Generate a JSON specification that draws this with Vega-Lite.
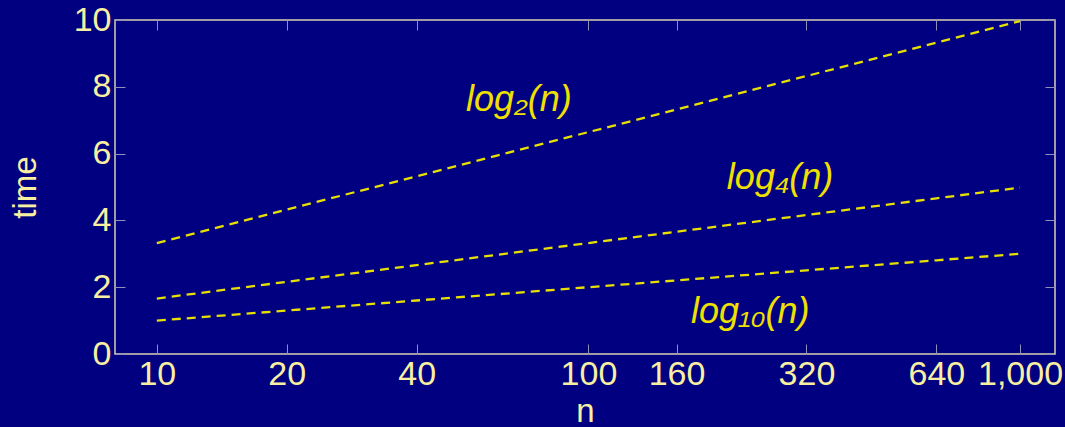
{
  "$schema": "https://vega.github.io/schema/vega-lite/v6.json",
  "autosize": "none",
  "padding": {"left": 115, "top": 20, "right": 10, "bottom": 73},
  "width": 940,
  "height": 334,
  "background": "#000080",
  "config": {
    "view": {"stroke": "#d8d0b0", "strokeWidth": 1.5},
    "font": "Liberation Sans",
    "axis": {
      "domain": false,
      "grid": false,
      "tickColor": "#9090b8",
      "tickSize": -10,
      "tickWidth": 1,
      "labelColor": "#f8f0a0",
      "labelFont": "Liberation Sans",
      "labelFontSize": 34,
      "titleColor": "#f8f0a0",
      "titleFont": "Liberation Sans",
      "titleFontSize": 33,
      "titleFontWeight": "normal"
    }
  },
  "datasets": {
    "lines": [
      {"n": 10, "time": 3.3219, "series": "log2"},
      {"n": 20, "time": 4.3219, "series": "log2"},
      {"n": 40, "time": 5.3219, "series": "log2"},
      {"n": 100, "time": 6.6439, "series": "log2"},
      {"n": 160, "time": 7.3219, "series": "log2"},
      {"n": 320, "time": 8.3219, "series": "log2"},
      {"n": 640, "time": 9.3219, "series": "log2"},
      {"n": 1000, "time": 9.9658, "series": "log2"},
      {"n": 10, "time": 1.6610, "series": "log4"},
      {"n": 20, "time": 2.1610, "series": "log4"},
      {"n": 40, "time": 2.6610, "series": "log4"},
      {"n": 100, "time": 3.3219, "series": "log4"},
      {"n": 160, "time": 3.6610, "series": "log4"},
      {"n": 320, "time": 4.1610, "series": "log4"},
      {"n": 640, "time": 4.6610, "series": "log4"},
      {"n": 1000, "time": 4.9829, "series": "log4"},
      {"n": 10, "time": 1.0, "series": "log10"},
      {"n": 20, "time": 1.301, "series": "log10"},
      {"n": 40, "time": 1.602, "series": "log10"},
      {"n": 100, "time": 2.0, "series": "log10"},
      {"n": 160, "time": 2.204, "series": "log10"},
      {"n": 320, "time": 2.505, "series": "log10"},
      {"n": 640, "time": 2.806, "series": "log10"},
      {"n": 1000, "time": 3.0, "series": "log10"}
    ],
    "labels": [
      {"n": 69, "time": 7.6, "label": "log₂(n)"},
      {"n": 278, "time": 5.27, "label": "log₄(n)"},
      {"n": 237, "time": 1.26, "label": "log₁₀(n)"}
    ]
  },
  "resolve": {"axis": {"x": "independent", "y": "independent"}},
  "layer": [
    {
      "data": {"name": "lines"},
      "mark": {"type": "line", "color": "#e8e000", "strokeWidth": 2.3, "strokeDash": [9, 6]},
      "encoding": {
        "x": {
          "field": "n", "type": "quantitative",
          "scale": {"type": "log", "domain": [8, 1205], "nice": false},
          "axis": {"orient": "bottom", "values": [10, 20, 40, 100, 160, 320, 640, 1000], "format": ",", "labelPadding": 13, "title": "n", "titleX": 470, "titleY": 57, "titleBaseline": "middle", "labelFlush": false, "labelOverlap": false}
        },
        "y": {
          "field": "time", "type": "quantitative",
          "scale": {"domain": [0, 10], "nice": false, "zero": false},
          "axis": {"orient": "left", "values": [0, 2, 4, 6, 8, 10], "labelPadding": 14, "title": "time", "titleX": -90, "titleY": 167, "titleAngle": -90, "titleAlign": "center", "titleBaseline": "middle", "labelFlush": false, "labelOverlap": false}
        },
        "detail": {"field": "series"}
      }
    },
    {
      "data": {"name": "labels"},
      "mark": {"type": "text", "color": "#f0e000", "fontSize": 36, "fontStyle": "italic", "font": "Liberation Sans"},
      "encoding": {
        "x": {
          "field": "n", "type": "quantitative",
          "scale": {"type": "log", "domain": [8, 1205], "nice": false},
          "axis": {"orient": "top", "values": [10, 20, 40, 100, 160, 320, 640, 1000], "labels": false, "title": null}
        },
        "y": {
          "field": "time", "type": "quantitative",
          "scale": {"domain": [0, 10], "nice": false, "zero": false},
          "axis": {"orient": "right", "values": [0, 2, 4, 6, 8, 10], "labels": false, "title": null}
        },
        "text": {"field": "label"}
      }
    }
  ]
}
